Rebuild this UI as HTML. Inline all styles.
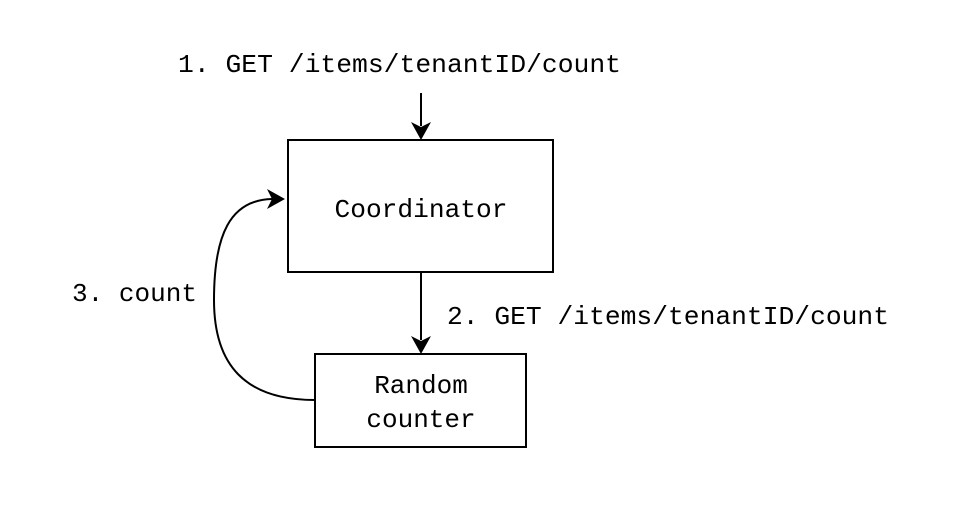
<!DOCTYPE html>
<html><head><meta charset="utf-8"><style>
html,body{margin:0;padding:0;background:#fff;width:974px;height:516px;overflow:hidden}
svg{display:block}
text{font-family:"Liberation Mono","Courier New",monospace;font-size:26px;fill:#000}
</style></head><body>
<svg width="974" height="516" viewBox="0 0 974 516">
<rect width="974" height="516" fill="#fff"/>
<text x="178" y="72" textLength="443" lengthAdjust="spacingAndGlyphs">1. GET /items/tenantID/count</text>
<line x1="421" y1="93" x2="421" y2="126" stroke="#000" stroke-width="2"/>
<polygon points="411,122 421,140 431,122 421,127" fill="#000"/>
<rect x="288" y="140" width="265" height="132" fill="#fff" stroke="#000" stroke-width="2"/>
<text x="421" y="217" text-anchor="middle" textLength="173" lengthAdjust="spacingAndGlyphs">Coordinator</text>
<line x1="421" y1="272" x2="421" y2="340" stroke="#000" stroke-width="2"/>
<polygon points="411,336 421,354 431,336 421,341" fill="#000"/>
<text x="447" y="324" textLength="442" lengthAdjust="spacingAndGlyphs">2. GET /items/tenantID/count</text>
<rect x="315" y="354" width="211" height="93" fill="#fff" stroke="#000" stroke-width="2"/>
<text x="421" y="393" text-anchor="middle">Random</text>
<text x="421" y="427" text-anchor="middle">counter</text>
<path d="M315,400 C245,400 214,365 214,300 C214,235 230,200 272,199" fill="none" stroke="#000" stroke-width="2"/>
<polygon points="267,189 285,199 267,209 272,199" fill="#000"/>
<text x="72" y="301" textLength="125" lengthAdjust="spacingAndGlyphs">3. count</text>
</svg>
</body></html>
